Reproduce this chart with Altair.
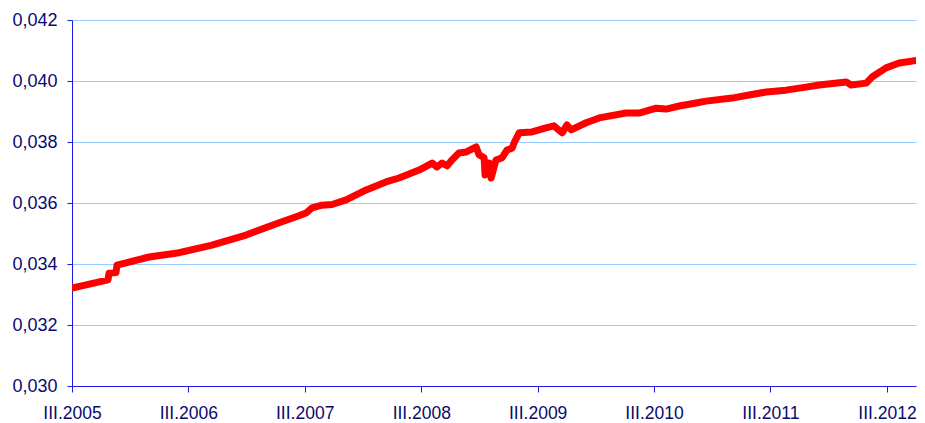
import altair as alt
import pandas as pd

dates = [
    "2005-03-01", "2005-06-22", "2005-06-25", "2005-07-17", "2005-07-20",
    "2005-10-29", "2006-01-31", "2006-05-14", "2006-08-29", "2006-12-11",
    "2007-02-11", "2007-03-05", "2007-03-24", "2007-04-24", "2007-05-26",
    "2007-07-09", "2007-09-10", "2007-11-11", "2007-12-22", "2008-02-23",
    "2008-04-04", "2008-04-19", "2008-05-05", "2008-05-21", "2008-06-05",
    "2008-06-27", "2008-07-19", "2008-08-20", "2008-08-29", "2008-09-14",
    "2008-09-17", "2008-09-30", "2008-10-06", "2008-10-21", "2008-11-09",
    "2008-11-25", "2008-12-11", "2008-12-17", "2009-01-02", "2009-02-11",
    "2009-03-27", "2009-04-21", "2009-05-17", "2009-06-01", "2009-06-14",
    "2009-07-31", "2009-09-10", "2009-12-03", "2010-01-13", "2010-03-08",
    "2010-04-08", "2010-05-19", "2010-07-11", "2010-08-11", "2010-11-01",
    "2010-12-24", "2011-02-16", "2011-04-19", "2011-06-21", "2011-08-01",
    "2011-10-25", "2011-11-09", "2011-12-27", "2012-01-14", "2012-02-27",
    "2012-04-08", "2012-06-10", "2012-06-26",
]
values = [
    0.03321, 0.03348, 0.03370, 0.03372, 0.03396,
    0.03423, 0.03437, 0.03462, 0.03495, 0.03535,
    0.03558, 0.03567, 0.03584, 0.03593, 0.03595,
    0.03610, 0.03643, 0.03669, 0.03682, 0.03708,
    0.03731, 0.03718, 0.03731, 0.03722, 0.03741,
    0.03764, 0.03767, 0.03784, 0.03758, 0.03748,
    0.03692, 0.03731, 0.03682, 0.03741, 0.03748,
    0.03774, 0.03780, 0.03797, 0.03830, 0.03833,
    0.03846, 0.03853, 0.03830, 0.03856, 0.03840,
    0.03863, 0.03879, 0.03895, 0.03895, 0.03911,
    0.03908, 0.03918, 0.03928, 0.03934, 0.03944,
    0.03954, 0.03964, 0.03970, 0.03980, 0.03987,
    0.03997, 0.03987, 0.03993, 0.04013, 0.04043,
    0.04059, 0.04069, 0.04075,
]
tick_years = [2005, 2006, 2007, 2008, 2009, 2010, 2011, 2012]
y_ticks = [0.030, 0.032, 0.034, 0.036, 0.038, 0.040, 0.042]

df = pd.DataFrame({"date": dates, "value": values})

x_tick_values = [alt.DateTime(year=y, month=3, date=1, utc=True) for y in tick_years]

label_color = "#0A0A6E"
axis_color = "#1A1AE6"
font = "Liberation Sans"

chart = alt.Chart(df).mark_line(
    color="#FF0000", strokeWidth=7, strokeCap="round", strokeJoin="round", clip=True
).encode(
    x=alt.X(
        "date:T",
        scale=alt.Scale(
            type="utc",
            domain=[
                alt.DateTime(year=2005, month=3, date=1, utc=True),
                alt.DateTime(year=2012, month=5, date=31, utc=True),
            ],
        ),
        axis=alt.Axis(
            values=x_tick_values,
            labelExpr="'III.' + utcFormat(datum.value, '%Y')",
            title=None,
            grid=False,
            tickSize=6,
            labelPadding=12,
            labelFontSize=17.5,
            labelFont=font,
            labelColor=label_color,
            domainColor=axis_color,
            tickColor=axis_color,
            labelOverlap=False,
            labelFlush=False,
        ),
    ),
    y=alt.Y(
        "value:Q",
        scale=alt.Scale(domain=[0.030, 0.042], nice=False, zero=False),
        axis=alt.Axis(
            values=y_ticks,
            labelExpr="replace(format(datum.value, '.3f'), '.', ',')",
            title=None,
            grid=True,
            gridColor="#99CCFF",
            gridWidth=1,
            tickSize=5,
            labelPadding=10,
            labelFontSize=18,
            labelFont=font,
            labelColor=label_color,
            domainColor=axis_color,
            tickColor=axis_color,
            labelFlush=False,
        ),
    ),
).properties(
    width=844,
    height=366,
    autosize=alt.AutoSizeParams(type="none"),
    padding={"left": 64, "top": 12, "right": 1, "bottom": 35},
).configure_view(stroke=None)

chart.save("out.html", embed_options={"renderer": "svg", "actions": False})
